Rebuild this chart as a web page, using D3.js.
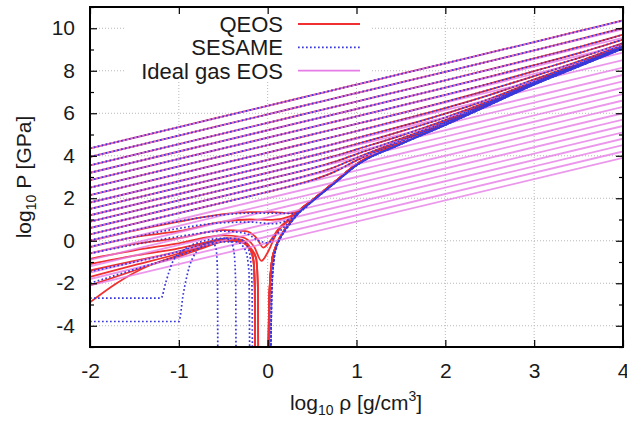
<!DOCTYPE html>
<html>
<head>
<meta charset="utf-8">
<script src="https://cdn.jsdelivr.net/npm/d3@7"></script>
<style>
  body { margin: 0; background: #fff; }
  svg { display: block; font-family: "Liberation Sans", Arial, sans-serif; }
</style>
</head>
<body>
<script>
// ideal gas isotherms: log10 P at log10 rho = -2 and at log10 rho = 4
const idealLeft  = [4.35, 3.95, 3.55, 3.2, 2.85, 2.5, 2.15, 1.8, 1.5, 1.2, 0.9, 0.6, 0.3, 0.0, -0.3, -0.6, -0.9, -1.2, -1.5, -1.8, -2.1];
const idealRight = [10.35, 9.95, 9.55, 9.2, 8.85, 8.5, 8.15, 7.8, 7.5, 7.2, 6.9, 6.6, 6.3, 6.0, 5.7, 5.4, 5.1, 4.8, 4.5, 4.2, 3.9];

// hot isotherms (QEOS and SESAME coincide), log10 P on a rho grid
const hotRho = [-2, -1, 0, 0.25, 0.5, 0.75, 1, 1.5, 2, 2.5, 3, 3.5, 4];
const hotLogP = [
  [4.35, 5.35, 6.35, 6.6, 6.85, 7.1, 7.35, 7.85, 8.35, 8.85, 9.35, 9.86, 10.37],
  [3.95, 4.95, 5.95, 6.2, 6.45, 6.7, 6.95, 7.45, 7.95, 8.45, 8.96, 9.48, 10.01],
  [3.55, 4.55, 5.55, 5.8, 6.05, 6.3, 6.55, 7.05, 7.55, 8.06, 8.58, 9.11, 9.7],
  [3.2, 4.2, 5.2, 5.45, 5.7, 5.95, 6.2, 6.7, 7.21, 7.72, 8.26, 8.83, 9.47],
  [2.85, 3.85, 4.85, 5.1, 5.35, 5.6, 5.85, 6.36, 6.87, 7.4, 7.98, 8.6, 9.3],
  [2.5, 3.5, 4.5, 4.75, 5.0, 5.25, 5.5, 6.0, 6.54, 7.11, 7.75, 8.44, 9.22],
  [2.15, 3.15, 4.15, 4.4, 4.65, 4.9, 5.16, 5.69, 6.24, 6.86, 7.59, 8.35, 9.16],
  [1.8, 2.8, 3.8, 4.05, 4.3, 4.56, 4.83, 5.38, 5.98, 6.68, 7.5, 8.3, 9.12],
  [1.5, 2.5, 3.5, 3.75, 4.0, 4.27, 4.55, 5.15, 5.8, 6.58, 7.45, 8.27, 9.11],
  [1.2, 2.2, 3.2, 3.45, 3.71, 3.98, 4.3, 4.95, 5.68, 6.52, 7.43, 8.26, 9.1],
  [0.9, 1.9, 2.9, 3.15, 3.41, 3.71, 4.08, 4.81, 5.6, 6.49, 7.41, 8.26, 9.1],
  [0.6, 1.6, 2.6, 2.85, 3.13, 3.46, 3.9, 4.72, 5.55, 6.47, 7.41, 8.25, 9.1],
  [0.3, 1.3, 2.3, 2.56, 2.85, 3.24, 3.78, 4.66, 5.53, 6.46, 7.4, 8.25, 9.1]
];

// cold curve that the low temperature isotherms end on
const qeosColdRho  = [0, 0.02, 0.05, 0.09, 0.13, 0.18, 0.25, 0.35, 0.5, 0.75, 1, 1.5, 2, 2.5, 3, 3.5, 4];
const qeosColdLogP = [-6, -2.5, -0.9, -0.3, 0.1, 0.45, 0.85, 1.4, 1.9, 2.75, 3.6, 4.6, 5.5, 6.45, 7.4, 8.25, 9.1];
const sesColdRho   = [0.03, 0.045, 0.07, 0.1, 0.14, 0.19, 0.26, 0.36, 0.5, 0.75, 1, 1.5, 2, 2.5, 3, 3.5, 4];
const sesColdLogP  = [-6, -2.5, -0.9, -0.3, 0.1, 0.45, 0.85, 1.35, 1.85, 2.7, 3.55, 4.55, 5.45, 6.4, 7.35, 8.2, 9.05];

// low temperature QEOS isotherms, [log rho, log P] up to where they meet the cold curve
const qeosLow = [
  [[-2, 0.0], [-1.5, 0.48], [-1, 0.9], [-0.5, 1.25], [-0.2, 1.35], [0.05, 1.35], [0.25, 1.3]],
  [[-2, -0.3], [-1.5, 0.17], [-1, 0.45], [-0.5, 0.9], [-0.2, 1.0], [0.05, 0.98], [0.25, 1.15]],
  [[-2, -0.6], [-1.5, -0.15], [-1, 0.12], [-0.5, 0.5], [-0.25, 0.45], [-0.12, 0.1], [-0.05, -0.32], [0.02, -0.05], [0.12, 0.55], [0.25, 1.05]],
  [[-2, -0.85], [-1.5, -0.45], [-1, -0.12], [-0.5, 0.25], [-0.3, 0.18], [-0.15, -0.3], [-0.07, -0.95], [0.0, -0.55], [0.1, 0.35], [0.25, 1.0]],
  [[-2, -1.1], [-1.5, -0.7], [-1, -0.36], [-0.7, -0.08], [-0.45, 0.12], [-0.3, 0.05], [-0.2, -0.3], [-0.16, -0.9], [-0.145, -2.2], [-0.14, -6]],
  [[-2, -1.4], [-1.5, -0.95], [-1, -0.5], [-0.7, -0.15], [-0.45, 0.08], [-0.3, 0.0], [-0.2, -0.3], [-0.13, -0.8], [-0.11, -2.2], [-0.105, -6], [0.015, -6]],
  [[-2, -1.7], [-1.5, -1.15], [-1, -0.6], [-0.7, -0.2], [-0.45, 0.05], [-0.3, -0.03], [-0.2, -0.35], [-0.16, -0.95], [-0.145, -2.2], [-0.14, -6]],
  [[-2, -2.1], [-1.5, -1.4], [-1, -0.67], [-0.7, -0.25], [-0.45, 0.02], [-0.3, -0.05], [-0.2, -0.35], [-0.13, -0.85], [-0.11, -2.2], [-0.105, -6], [0.015, -6]],
  [[-2, -2.9], [-1.7, -2.0], [-1.35, -1.2], [-1, -0.75], [-0.7, -0.3], [-0.45, 0.0], [-0.3, -0.07], [-0.2, -0.4], [-0.16, -0.95], [-0.145, -2.2], [-0.14, -6]]
];

// low temperature SESAME isotherms
const sesameLow = [
  [[-2, 0.02], [-1.5, 0.5], [-1, 0.92], [-0.5, 1.22], [-0.2, 1.3], [0.05, 1.3], [0.3, 1.28]],
  [[-2, -0.28], [-1.5, 0.18], [-1, 0.58], [-0.5, 0.85], [-0.2, 0.88], [0.05, 0.8], [0.3, 1.15]],
  [[-2, -0.6], [-1.5, -0.18], [-1, 0.2], [-0.5, 0.45], [-0.25, 0.35], [-0.1, 0.0], [0.0, -0.1], [0.1, 0.3], [0.3, 1.1]],
  [[-2, -1.45], [-1.5, -1.0], [-1, -0.5], [-0.7, -0.12], [-0.45, 0.12], [-0.3, 0.05], [-0.22, -0.35], [-0.185, -1.2], [-0.175, -2.5], [-0.17, -6], [0.03, -6]],
  [[-2, -2.0], [-1.5, -1.35], [-1, -0.7], [-0.7, -0.25], [-0.5, -0.05], [-0.35, -0.05], [-0.25, -0.45], [-0.21, -1.5], [-0.2, -6]],
  [[-2, -2.7], [-1.2, -2.7], [-1.15, -2.0], [-1.07, -1.0], [-0.95, -0.45], [-0.75, -0.05], [-0.5, 0.12], [-0.42, 0.0], [-0.38, -0.5], [-0.36, -2], [-0.355, -6]],
  [[-2, -3.8], [-1.0, -3.8], [-0.95, -2.5], [-0.88, -1.2], [-0.8, -0.5], [-0.7, -0.15], [-0.62, -0.08], [-0.58, -0.4], [-0.565, -1.5], [-0.56, -6]]
];

const xTicks = [-2, -1, 0, 1, 2, 3, 4];
const yTicks = [-4, -2, 0, 2, 4, 6, 8, 10];
const yMinor = [-5, -3, -1, 1, 3, 5, 7, 9, 11];
const legendNames = ["QEOS", "SESAME", "Ideal gas EOS"];

const width = 627, height = 424;
const x = d3.scaleLinear().domain([-2, 4]).range([90, 623]);
const y = d3.scaleLinear().domain([-5, 11]).range([347, 7]);

const svg = d3.select("body").append("svg")
    .attr("width", width)
    .attr("height", height);

svg.append("clipPath").attr("id", "plot")
  .append("rect")
    .attr("x", x(-2)).attr("y", y(11))
    .attr("width", x(4) - x(-2)).attr("height", y(-5) - y(11));

// grid
const grid = svg.append("g").attr("stroke", "#b8b8b8").attr("stroke-width", 1).attr("stroke-dasharray", "1,2");
grid.selectAll(".gx").data(xTicks.slice(1, -1)).enter().append("line")
    .attr("x1", d => x(d)).attr("x2", d => x(d))
    .attr("y1", y(11)).attr("y2", y(-5));
grid.selectAll(".gy").data(yTicks).enter().append("line")
    .attr("x1", x(-2)).attr("x2", x(4))
    .attr("y1", d => y(d)).attr("y2", d => y(d));

// legend background hides the grid
svg.append("rect").attr("x", 126).attr("y", 9).attr("width", 244).attr("height", 72).attr("fill", "#fff");

const line = d3.line().x(d => x(d[0])).y(d => y(d[1])).curve(d3.curveMonotoneX);
const straight = d3.line().x(d => x(d[0])).y(d => y(d[1]));

function withTail(head, tx, ty) {
    const last = head[head.length - 1][0];
    const pts = head.slice();
    tx.forEach((v, i) => { if (v > last) pts.push([v, ty[i]]); });
    return pts;
}

const hotCurves = hotLogP.map(row => hotRho.map((r, i) => [r, row[i]]));
const qeosCurves = hotCurves.concat(qeosLow.map(h => withTail(h, qeosColdRho, qeosColdLogP)));
const sesCurves = hotCurves.concat(sesameLow.map(h => withTail(h, sesColdRho, sesColdLogP)));
const idealCurves = idealLeft.map((v, i) => [[-2, v], [4, idealRight[i]]]);

const plot = svg.append("g").attr("clip-path", "url(#plot)").attr("fill", "none");

plot.selectAll(".qeos").data(qeosCurves).enter().append("path")
    .attr("d", line)
    .attr("stroke", "#f03030").attr("stroke-width", 1.8);

plot.selectAll(".ideal").data(idealCurves).enter().append("path")
    .attr("d", straight)
    .attr("stroke", "#e67de6").attr("stroke-width", 1.8).attr("stroke-opacity", 0.8);

plot.selectAll(".sesame").data(sesCurves).enter().append("path")
    .attr("d", line)
    .attr("stroke", "#3838dc").attr("stroke-width", 1.7).attr("stroke-dasharray", "1.7,2.3");

// frame and ticks
svg.append("rect")
    .attr("x", x(-2)).attr("y", y(11))
    .attr("width", x(4) - x(-2)).attr("height", y(-5) - y(11))
    .attr("fill", "none").attr("stroke", "#000").attr("stroke-width", 2);

function tidy(g) {
    g.select(".domain").remove();
    g.selectAll("line").attr("stroke", "#000").attr("stroke-width", 1.2);
    g.selectAll("text").attr("fill", "#1a1a1a").style("font-size", "21px");
}

svg.append("g").attr("transform", `translate(0,${y(-5)})`)
    .call(d3.axisBottom(x).tickValues(xTicks).tickSize(-7).tickPadding(16).tickFormat(d => String(d)))
    .call(tidy);
svg.append("g").attr("transform", `translate(0,${y(11)})`)
    .call(d3.axisTop(x).tickValues(xTicks).tickSize(-7).tickFormat(""))
    .call(tidy);
svg.append("g").attr("transform", `translate(${x(-2)},0)`)
    .call(d3.axisLeft(y).tickValues(yTicks).tickSize(-7).tickPadding(15).tickFormat(d => String(d)))
    .call(tidy);
svg.append("g").attr("transform", `translate(${x(-2)},0)`)
    .call(d3.axisLeft(y).tickValues(yMinor).tickSize(-4).tickFormat(""))
    .call(tidy);
svg.append("g").attr("transform", `translate(${x(4)},0)`)
    .call(d3.axisRight(y).tickValues(yTicks).tickSize(-7).tickFormat(""))
    .call(tidy);
svg.append("g").attr("transform", `translate(${x(4)},0)`)
    .call(d3.axisRight(y).tickValues(yMinor).tickSize(-4).tickFormat(""))
    .call(tidy);

// axis titles
const xt = svg.append("text").attr("x", 356).attr("y", 410)
    .attr("text-anchor", "middle").attr("fill", "#1a1a1a").style("font-size", "21px");
xt.append("tspan").text("log");
xt.append("tspan").text("10").style("font-size", "14px").attr("dy", 5);
xt.append("tspan").text(" ρ [g/cm").attr("dy", -5);
xt.append("tspan").text("3").style("font-size", "14px").attr("dy", -9);
xt.append("tspan").text("]").attr("dy", 9);

const yt = svg.append("text").attr("transform", "translate(31,177) rotate(-90)")
    .attr("text-anchor", "middle").attr("fill", "#1a1a1a").style("font-size", "21px");
yt.append("tspan").text("log");
yt.append("tspan").text("10").style("font-size", "14px").attr("dy", 5);
yt.append("tspan").text(" P [GPa]").attr("dy", -5);

// legend
const legendStyles = [
    {stroke: "#f03030", dash: null},
    {stroke: "#3838dc", dash: "1.7,2.3"},
    {stroke: "#e67de6", dash: null}
];
const legend = svg.append("g");
legendNames.forEach((name, i) => {
    const ly = 24 + i * 23.3;
    legend.append("text").attr("x", 283).attr("y", ly + 8)
        .attr("text-anchor", "end").attr("fill", "#1a1a1a").style("font-size", "22px")
        .text(name);
    legend.append("line")
        .attr("x1", 298).attr("x2", 360).attr("y1", ly).attr("y2", ly)
        .attr("stroke", legendStyles[i].stroke).attr("stroke-width", 1.8)
        .attr("stroke-dasharray", legendStyles[i].dash);
});
</script>
</body>
</html>
